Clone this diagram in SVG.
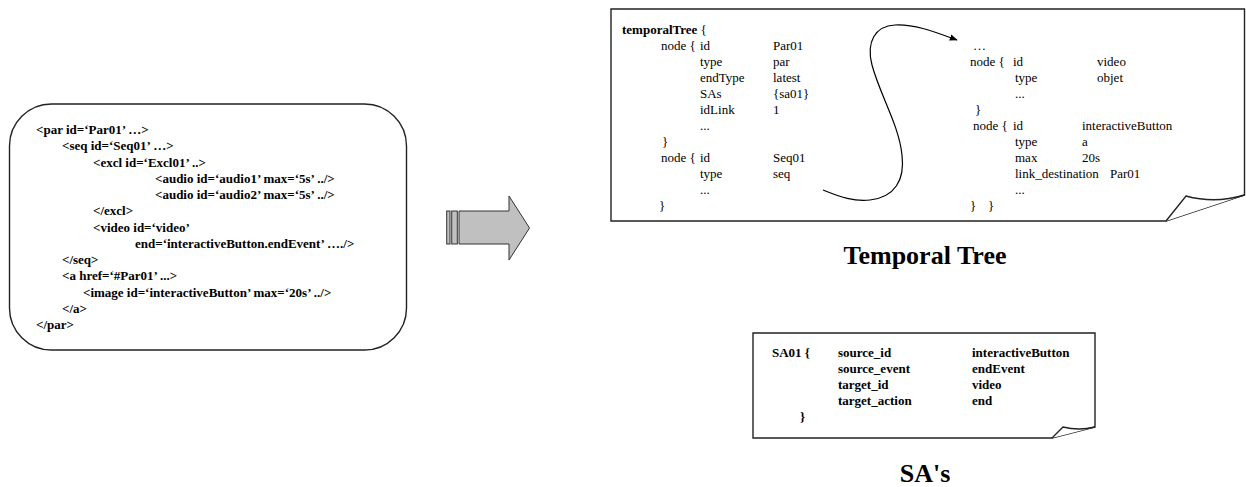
<svg xmlns="http://www.w3.org/2000/svg" width="1246" height="487" viewBox="0 0 1246 487">
<style>
  .box { fill: #ffffff; stroke: #222222; stroke-width: 1.4; }
  .code { font-family: "Liberation Serif", "Times New Roman", serif; font-size: 13px; font-weight: bold; fill: #000; }
  .tt { font-family: "Liberation Serif", "Times New Roman", serif; font-size: 13px; fill: #000; }
  .ttb { font-weight: bold; }
  .label { font-family: "Liberation Serif", "Times New Roman", serif; font-size: 26px; font-weight: bold; fill: #000; text-anchor: middle; }
  .conn { fill: none; stroke: #000; stroke-width: 1.2; }
  .block { fill: #c0c0c0; stroke: #333333; stroke-width: 1; }
</style>
<defs>
  <marker id="ah" viewBox="0 0 10 10" refX="9" refY="5" markerWidth="8" markerHeight="8" markerUnits="userSpaceOnUse" orient="auto">
    <path d="M0,1 L10,5 L0,9 z" fill="#000"/>
  </marker>
</defs>
<rect width="1246" height="487" fill="#ffffff"/>

<g id="smil-source">
  <rect class="box" x="9.5" y="104" width="397" height="246" rx="42" ry="42"/>
  <text class="code" x="36" y="134">&lt;par id=‘Par01’ …&gt;</text>
  <text class="code" x="62" y="150">&lt;seq id=‘Seq01’ …&gt;</text>
  <text class="code" x="93" y="166.5">&lt;excl id=‘Excl01’ ..&gt;</text>
  <text class="code" x="155" y="183">&lt;audio id=‘audio1’ max=‘5s’ ../&gt;</text>
  <text class="code" x="155" y="199">&lt;audio id=‘audio2’ max=‘5s’ ../&gt;</text>
  <text class="code" x="93" y="215">&lt;/excl&gt;</text>
  <text class="code" x="93" y="231.5">&lt;video id=‘video’</text>
  <text class="code" x="135" y="248">end=‘interactiveButton.endEvent’ …./&gt;</text>
  <text class="code" x="62" y="264">&lt;/seq&gt;</text>
  <text class="code" x="62" y="280">&lt;a href=‘#Par01’ ...&gt;</text>
  <text class="code" x="83" y="296.5">&lt;image id=‘interactiveButton’ max=‘20s’ ../&gt;</text>
  <text class="code" x="62" y="313">&lt;/a&gt;</text>
  <text class="code" x="36" y="329">&lt;/par&gt;</text>
</g>

<g id="temporal-tree">
  <path class="box" d="M611,9 H1244.5 V195 L1166,221 H611 Z"/>
  <path class="box" d="M1166,221 L1186,196 Q1215,204 1244.5,195"/>
  <text class="tt" x="622" y="34"><tspan class="ttb">temporalTree</tspan> {</text>
  <text class="tt" x="661" y="50">node {</text>
  <text class="tt" x="700" y="50">id</text>
  <text class="tt" x="773" y="50">Par01</text>
  <text class="tt" x="700" y="66">type</text>
  <text class="tt" x="773" y="66">par</text>
  <text class="tt" x="700" y="82">endType</text>
  <text class="tt" x="773" y="82">latest</text>
  <text class="tt" x="700" y="98">SAs</text>
  <text class="tt" x="773" y="98">{sa01}</text>
  <text class="tt" x="700" y="114">idLink</text>
  <text class="tt" x="773" y="114">1</text>
  <text class="tt" x="700" y="130">...</text>
  <text class="tt" x="662" y="146">}</text>
  <text class="tt" x="661" y="162">node {</text>
  <text class="tt" x="700" y="162">id</text>
  <text class="tt" x="773" y="162">Seq01</text>
  <text class="tt" x="700" y="178">type</text>
  <text class="tt" x="773" y="178">seq</text>
  <text class="tt" x="700" y="194">...</text>
  <text class="tt" x="659" y="210">}</text>

  <text class="tt" x="973" y="50">…</text>
  <text class="tt" x="970" y="66">node {</text>
  <text class="tt" x="1013" y="66">id</text>
  <text class="tt" x="1097" y="66">video</text>
  <text class="tt" x="1015" y="82">type</text>
  <text class="tt" x="1097" y="82">objet</text>
  <text class="tt" x="1015" y="98">...</text>
  <text class="tt" x="975" y="114">}</text>
  <text class="tt" x="973" y="130">node {</text>
  <text class="tt" x="1013" y="130">id</text>
  <text class="tt" x="1082" y="130">interactiveButton</text>
  <text class="tt" x="1015" y="146">type</text>
  <text class="tt" x="1082" y="146">a</text>
  <text class="tt" x="1015" y="162">max</text>
  <text class="tt" x="1082" y="162">20s</text>
  <text class="tt" x="1015" y="178">link_destination<tspan x="1110">Par01</tspan></text>
  <text class="tt" x="1015" y="194">...</text>
  <text class="tt" x="970" y="210">}</text>
  <text class="tt" x="988" y="210">}</text>
</g>
<text id="temporal-tree-label" class="label" x="925" y="264">Temporal Tree</text>

<g id="sa-table">
  <path class="box" d="M753,333 H1095 V427 L1052,438 H753 Z"/>
  <path class="box" d="M1052,438 L1063,427 Q1079,431 1095,427"/>
  <text class="code" x="772" y="357">SA01 {</text>
  <text class="code" x="838" y="357">source_id</text>
  <text class="code" x="972" y="357">interactiveButton</text>
  <text class="code" x="838" y="373">source_event</text>
  <text class="code" x="972" y="373">endEvent</text>
  <text class="code" x="838" y="389">target_id</text>
  <text class="code" x="972" y="389">video</text>
  <text class="code" x="838" y="405">target_action</text>
  <text class="code" x="972" y="405">end</text>
  <text class="code" x="800" y="421">}</text>
</g>
<text id="sa-label" class="label" x="925" y="482">SA's</text>

<g id="connectors">
  <g id="transform-arrow">
    <rect class="block" x="446.7" y="211" width="3.3" height="33"/>
    <rect class="block" x="451.7" y="211" width="5.6" height="33"/>
    <polygon class="block" points="459,211 509,211 509,196 529.5,228 509,260 509,244 459,244"/>
  </g>
  <path id="tree-link" class="conn" marker-end="url(#ah)" d="M823,190 C840,197 855,202 870,200 C895,197 905,180 902,155 C899,125 880,95 872,65 C866,42 875,26 895,25 C915,24 935,32 957,40"/>
</g>
</svg>
